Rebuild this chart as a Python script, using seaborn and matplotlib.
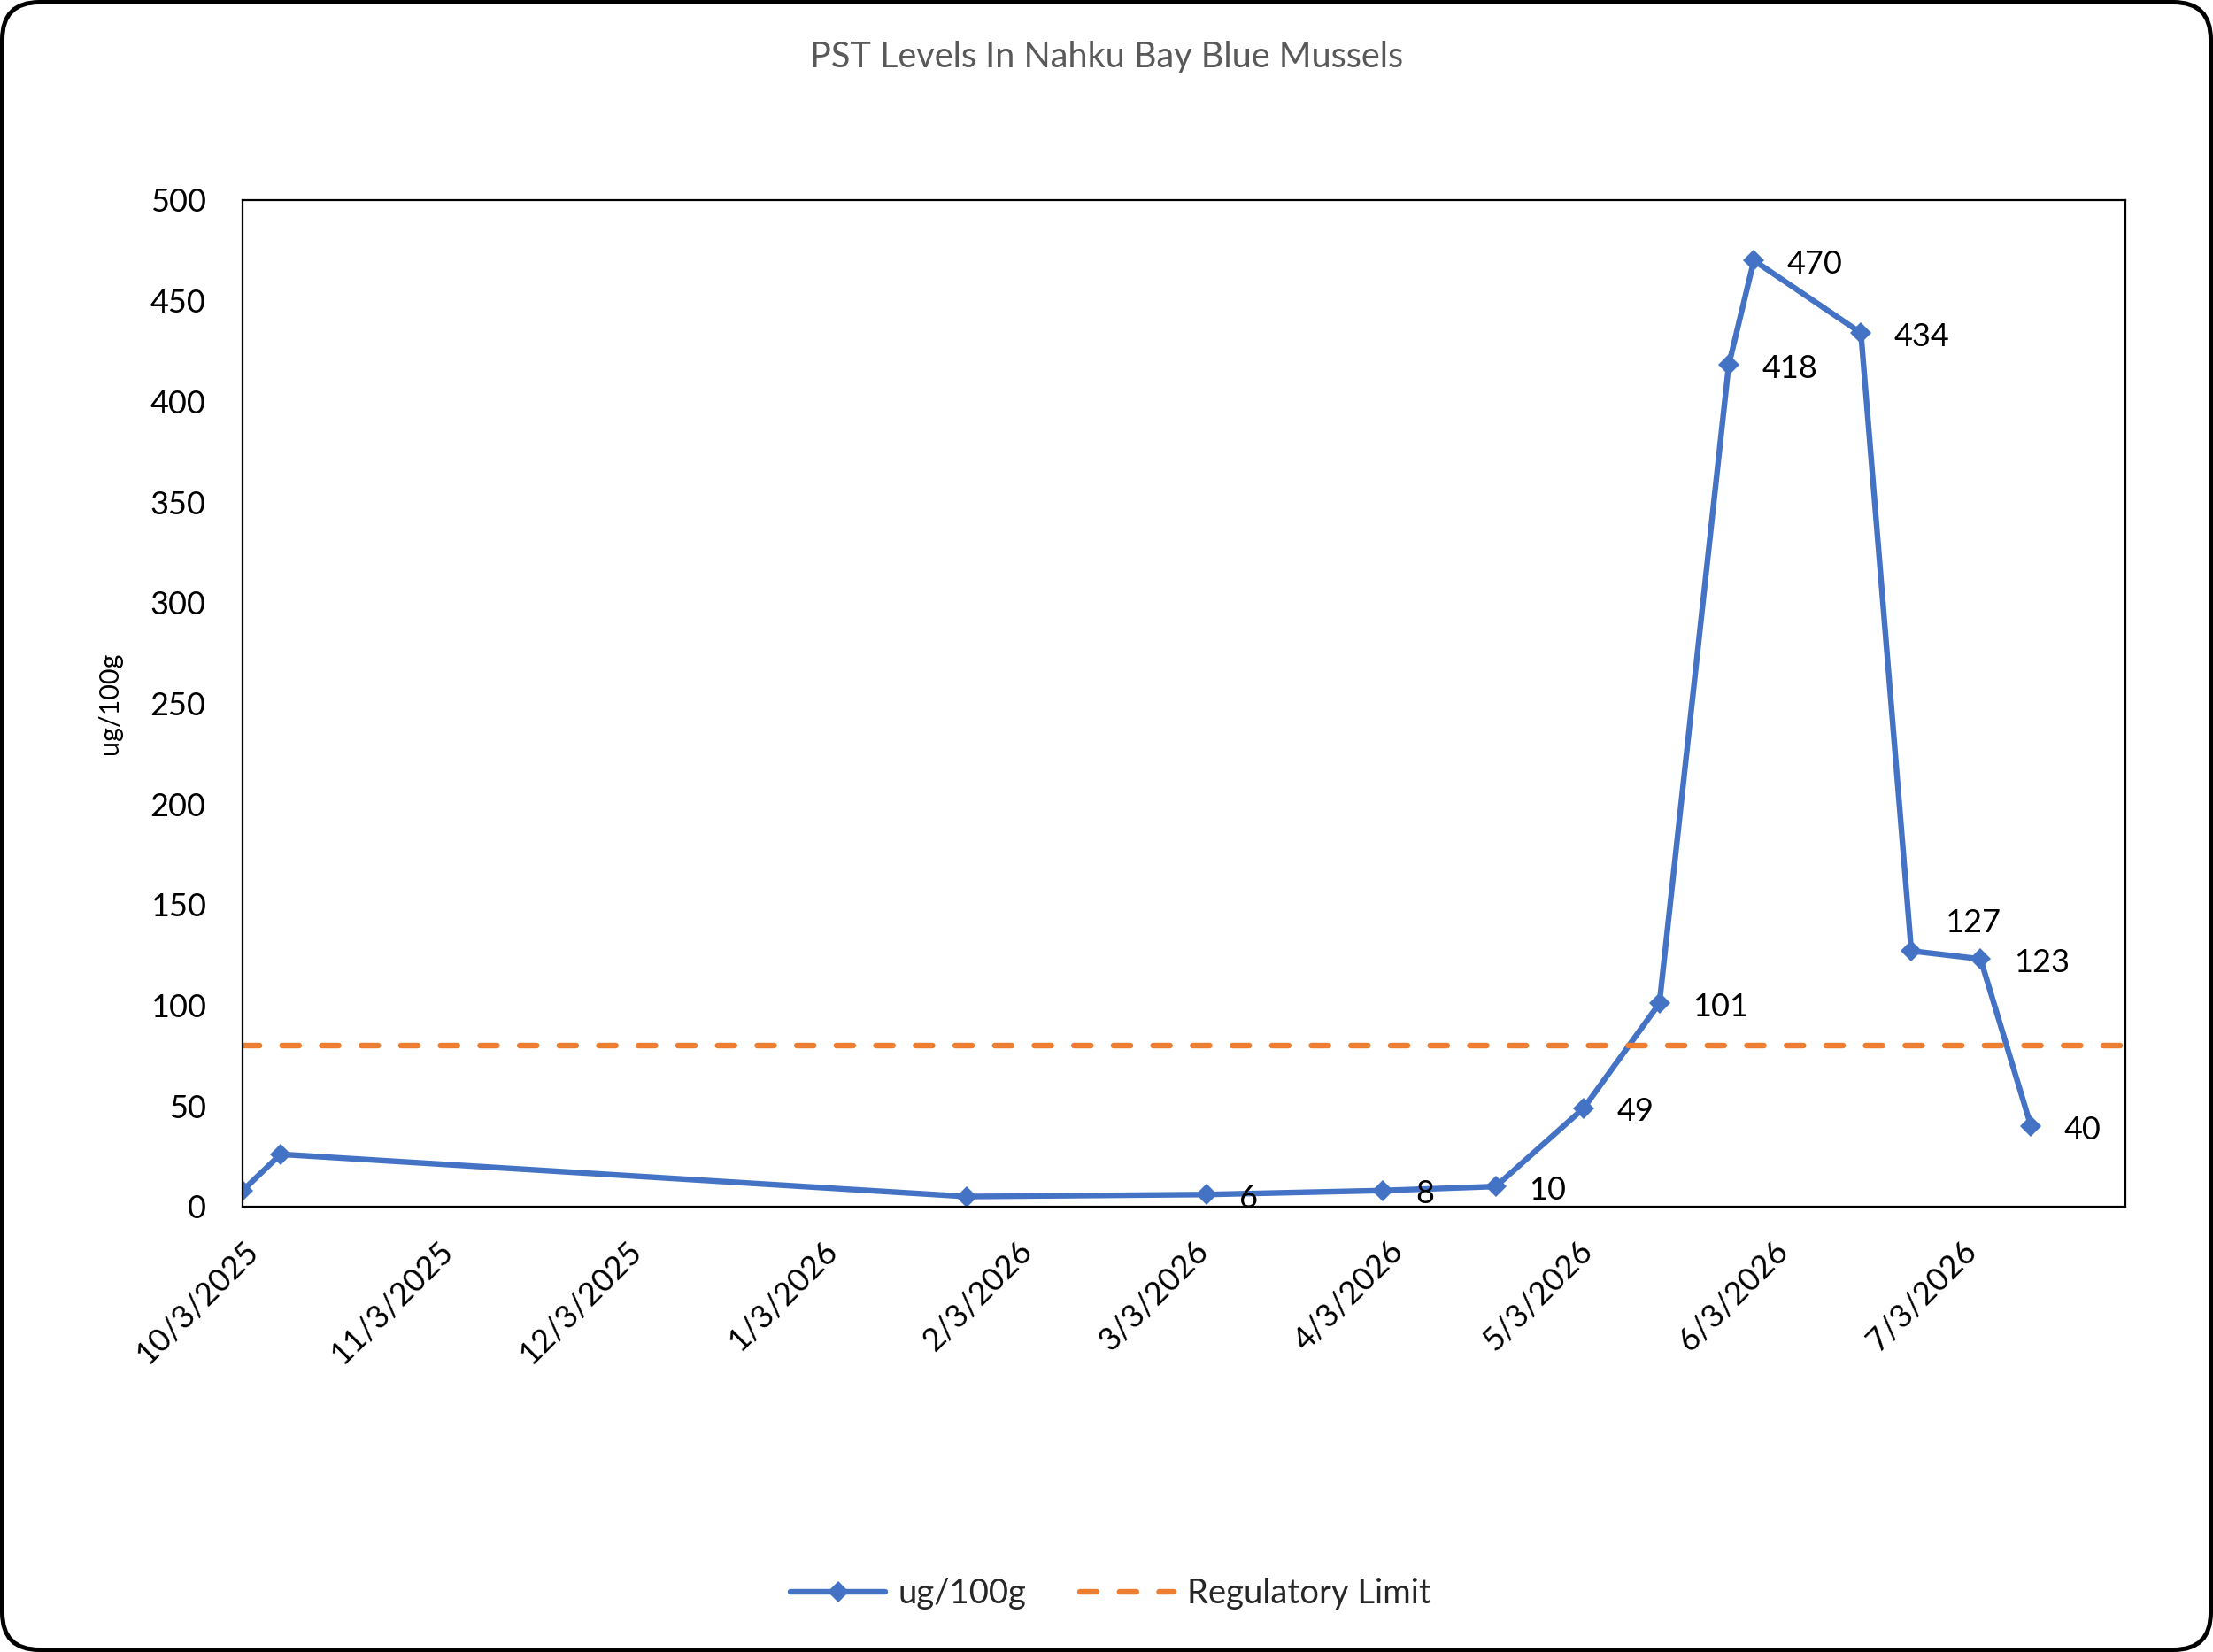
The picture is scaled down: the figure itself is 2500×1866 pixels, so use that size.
import matplotlib
matplotlib.use("Agg")
import matplotlib.pyplot as plt
from matplotlib.patches import FancyBboxPatch
from matplotlib.transforms import IdentityTransform
from matplotlib.lines import Line2D
import seaborn as sns
import pandas as pd

# ---- data ----
sample_dates = ["2025-10-03", "2025-10-09", "2026-01-26", "2026-03-05", "2026-04-02",
                "2026-04-20", "2026-05-04", "2026-05-16", "2026-05-27", "2026-05-31",
                "2026-06-17", "2026-06-25", "2026-07-06", "2026-07-14"]
pst_values = [8, 26, 5, 6, 8, 10, 49, 101, 418, 470, 434, 127, 123, 40]
show_label = [False, False, False, True, True, True, True, True, True, True, True, True, True, True]
regulatory_limit = 80
tick_dates = ["2025-10-03", "2025-11-03", "2025-12-03", "2026-01-03", "2026-02-03",
              "2026-03-03", "2026-04-03", "2026-05-03", "2026-06-03", "2026-07-03"]
tick_labels = ["10/3/2025", "11/3/2025", "12/3/2025", "1/3/2026", "2/3/2026",
               "3/3/2026", "4/3/2026", "5/3/2026", "6/3/2026", "7/3/2026"]
y_ticks = [0, 50, 100, 150, 200, 250, 300, 350, 400, 450, 500]
title_text = "PST Levels In Nahku Bay Blue Mussels"
series_name = "ug/100g"
limit_name = "Regulatory Limit"
y_label = "ug/100g"

BLUE = "#4472C4"
ORANGE = "#ED7D31"
LW = 4.6
MS = 12

sns.set_style("white")
plt.rcParams["font.family"] = ["Lato", "DejaVu Sans"]

df = pd.DataFrame({"date": pd.to_datetime(sample_dates), "value": pst_values})

fig = plt.figure(figsize=(25, 18.66), dpi=100)
ax = fig.add_axes([0.1097, 0.2696, 0.8507, 0.6093])

sns.lineplot(data=df, x="date", y="value", ax=ax, color=BLUE, linewidth=LW,
             marker="D", markersize=MS, markeredgewidth=0, label=series_name,
             legend=False)
ax.axhline(regulatory_limit, color=ORANGE, linewidth=LW, dashes=(3.0, 4.0),
           dash_capstyle="round", label=limit_name)

# data labels (right of point; the 127 label sits raised)
for d, v, s in zip(df["date"], df["value"], show_label):
    if not s:
        continue
    dy = 23 if v == 127 else -3
    ax.annotate(str(v), (d, v), xytext=(27, dy), textcoords="offset points",
                ha="left", va="center", fontsize=26, color="black")

ax.set_xlim(pd.Timestamp("2025-10-03"), pd.Timestamp("2026-07-29"))
ax.set_ylim(0, 500)
ax.set_yticks(y_ticks)
ax.set_yticklabels([str(t) for t in y_ticks])
ax.set_xticks(pd.to_datetime(tick_dates))
ax.set_xticklabels(tick_labels, rotation=45, ha="right", va="top",
                   rotation_mode="anchor")
ax.tick_params(axis="y", length=0, pad=30, labelsize=26, colors="black")
ax.tick_params(axis="x", length=0, pad=24, labelsize=26, colors="black")
ax.set_xlabel("")
ax.set_ylabel(y_label, fontsize=22, color="black")
ax.yaxis.set_label_coords(-0.064, 0.5)
for sp in ax.spines.values():
    sp.set_visible(True)
    sp.set_color("black")
    sp.set_linewidth(1.6)
ax.grid(False)

fig.text(0.5, 0.9657, title_text, ha="center", va="center", fontsize=28.5, color="#595959")

handles = [Line2D([], [], color=BLUE, linewidth=LW, marker="D", markersize=MS,
                  markeredgewidth=0),
           Line2D([], [], color=ORANGE, linewidth=LW, dashes=(3.0, 4.0),
                  dash_capstyle="round")]
fig.legend(handles, [series_name, limit_name], loc="center", bbox_to_anchor=(0.502, 0.0354),
           ncol=2, frameon=False, fontsize=27.5, handlelength=2.8, handletextpad=0.38,
           columnspacing=1.57)

border = FancyBboxPatch((2.5, 2.5), 2495, 1861, boxstyle="round,pad=0,rounding_size=42",
                        transform=IdentityTransform(), fill=False, edgecolor="black",
                        linewidth=3.6)
fig.patches.append(border)

fig.savefig("out.png", dpi=100, facecolor="white")
